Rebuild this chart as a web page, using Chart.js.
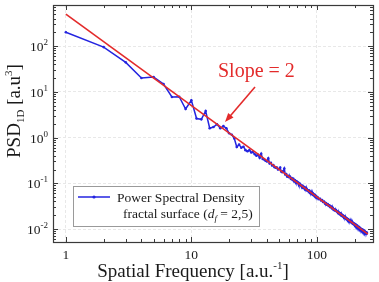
<!DOCTYPE html>
<html>
<head>
<meta charset="utf-8">
<script src="https://cdn.jsdelivr.net/npm/chart.js@4.4.1/dist/chart.umd.min.js"></script>
<style>
html, body { margin: 0; padding: 0; background: #fff; }
#wrap { width: 379px; height: 282px; position: relative; }
</style>
</head>
<body>
<div id="wrap"><canvas id="psdChart"></canvas></div>
<script>
const freq = [
	1, 2, 3, 4, 5, 6, 7, 8, 9, 10,
	11, 12, 13, 14, 15, 16, 17, 18, 19, 20,
	21, 22, 23, 24, 25, 26, 27, 28, 29, 30,
	31, 32, 33, 34, 35, 36, 37, 38, 39, 40,
	41, 42, 43, 44, 45, 46, 47, 48, 49, 50,
	51, 52, 53, 54, 55, 56, 57, 58, 59, 60,
	61, 62, 63, 64, 65, 66, 67, 68, 69, 70,
	71, 72, 73, 74, 75, 76, 77, 78, 79, 80,
	81, 82, 83, 84, 85, 86, 87, 88, 89, 90,
	91, 92, 93, 94, 95, 96, 97, 98, 99, 100,
	102, 104, 106, 108, 110, 112, 114, 116, 118, 120,
	122, 124, 126, 128, 130, 132, 134, 136, 138, 140,
	142, 144, 146, 148, 150, 152, 154, 156, 158, 160,
	162, 164, 166, 168, 170, 172, 174, 176, 178, 180,
	182, 184, 186, 188, 190, 192, 194, 196, 198, 200,
	202, 204, 206, 208, 210, 212, 214, 216, 218, 220,
	222, 224, 226, 228, 230, 232, 234, 236, 238, 240,
	242, 244, 246, 248, 250
];
const psd = [
	200, 95, 44, 20, 21, 14.8, 7.7, 7.8, 4.2, 6.5,
	2.6, 2.5, 3.8, 1.6, 1.7, 1.95, 1.6, 1.78, 1.6, 1.24,
	1.15, 0.95, 0.62, 0.70, 0.60, 0.63, 0.53, 0.50, 0.53, 0.47,
	0.48, 0.43, 0.40, 0.42, 0.36, 0.44, 0.34, 0.33, 0.31, 0.30,
	0.35, 0.27, 0.28, 0.245, 0.25, 0.225, 0.22, 0.22, 0.20, 0.205,
	0.22, 0.18, 0.175, 0.185, 0.21, 0.155, 0.16, 0.14, 0.145, 0.135,
	0.14, 0.125, 0.13, 0.118, 0.125, 0.11, 0.116, 0.104, 0.11, 0.1,
	0.104, 0.092, 0.098, 0.094, 0.088, 0.083, 0.088, 0.079, 0.083, 0.076,
	0.08, 0.072, 0.076, 0.069, 0.07, 0.066, 0.069, 0.063, 0.065, 0.06,
	0.062, 0.057, 0.06, 0.055, 0.057, 0.053, 0.055, 0.051, 0.052, 0.049,
	0.049, 0.045, 0.046, 0.042, 0.043, 0.039, 0.040, 0.036, 0.037, 0.034,
	0.035, 0.032, 0.033, 0.030, 0.031, 0.028, 0.029, 0.026, 0.027, 0.025,
	0.026, 0.024, 0.024, 0.022, 0.023, 0.021, 0.022, 0.0198, 0.0207, 0.019,
	0.0198, 0.018, 0.0188, 0.0172, 0.0178, 0.0164, 0.0170, 0.0156, 0.0163, 0.0150,
	0.0156, 0.0144, 0.0149, 0.0138, 0.0143, 0.0132, 0.0137, 0.0127, 0.0132, 0.0122,
	0.0127, 0.0117, 0.0122, 0.0112, 0.0117, 0.0108, 0.0112, 0.0104, 0.0109, 0.0100,
	0.0104, 0.0097, 0.0100, 0.0093, 0.0097, 0.0090, 0.0094, 0.0087, 0.0091, 0.0084,
	0.0088, 0.0081, 0.0085, 0.0079, 0.0084
];
// fitted slope line end points
const slopeX = [1, 255];
const slopeY = [500, 0.0077];

const xTicks = [1, 10, 100];
const yTicks = [0.01, 0.1, 1, 10, 100];
const yTickExp = ["-2", "-1", "0", "1", "2"];

const serif = '"Liberation Serif", "Times New Roman", serif';
const blue = "#2424e0";
const red = "#e32b2b";

// draws a run of text pieces [text, size, dy, style] from x, returns width
function drawParts(ctx, parts, x, y, measureOnly) {
	let cx = x;
	parts.forEach(function (p) {
		ctx.font = (p[3] || "") + " " + p[1] + "px " + serif;
		if (!measureOnly) ctx.fillText(p[0], cx, y + p[2]);
		cx += ctx.measureText(p[0]).width;
	});
	return cx - x;
}

function hline(ctx, x1, y1, x2, y2) {
	ctx.beginPath();
	ctx.moveTo(x1, y1);
	ctx.lineTo(x2, y2);
	ctx.stroke();
}

const decorations = {
	id: "decorations",
	afterDraw(chart) {
		const ctx = chart.ctx;
		const a = chart.chartArea;
		const xs = chart.scales.x;
		const ys = chart.scales.y;
		ctx.save();

		// frame
		ctx.strokeStyle = "#3a3a3a";
		ctx.lineWidth = 1.2;
		ctx.strokeRect(Math.round(a.left) + 0.5, Math.round(a.top) + 0.5,
			Math.round(a.right - a.left), Math.round(a.bottom - a.top));

		// inward ticks
		ctx.lineWidth = 1;
		[1, 10, 100].forEach(function (d) {
			for (let m = 1; m <= 9; m++) {
				const v = d * m;
				if (v < xs.min || v > xs.max) continue;
				const px = Math.round(xs.getPixelForValue(v)) + 0.5;
				const len = m === 1 ? 5 : 3;
				hline(ctx, px, a.bottom, px, a.bottom - len);
				hline(ctx, px, a.top, px, a.top + len);
			}
		});
		[0.001, 0.01, 0.1, 1, 10, 100].forEach(function (d) {
			for (let m = 1; m <= 9; m++) {
				const v = d * m;
				if (v < ys.min || v > ys.max) continue;
				const py = Math.round(ys.getPixelForValue(v)) + 0.5;
				const len = m === 1 ? 5 : 3;
				hline(ctx, a.left, py, a.left + len, py);
				hline(ctx, a.right, py, a.right - len, py);
			}
		});

		// y tick labels 10^n
		ctx.fillStyle = "#1a1a1a";
		ctx.textAlign = "left";
		ctx.textBaseline = "alphabetic";
		yTicks.forEach(function (v, i) {
			const py = ys.getPixelForValue(v);
			const parts = [["10", 13.5, 0], [yTickExp[i], 9, -6]];
			const w = drawParts(ctx, parts, 0, 0, true);
			drawParts(ctx, parts, 48 - w, py + 5);
		});

		// x axis title
		const xt = [["Spatial Frequency [a.u.", 19, 0], ["-1", 11, -8], ["]", 19, 0]];
		const xw = drawParts(ctx, xt, 0, 0, true);
		drawParts(ctx, xt, 193 - xw / 2, 277);

		// y axis title, rotated
		ctx.save();
		ctx.translate(20, 111);
		ctx.rotate(-Math.PI / 2);
		const yt = [["PSD", 19, 0], ["1D", 11, 4], [" [a.u", 19, 0], ["3", 11, -8], ["]", 19, 0]];
		const yw = drawParts(ctx, yt, 0, 0, true);
		drawParts(ctx, yt, -yw / 2, 0);
		ctx.restore();

		// legend box
		ctx.fillStyle = "#fff";
		ctx.fillRect(73.5, 186.5, 186, 40);
		ctx.strokeStyle = "#9a9a9a";
		ctx.lineWidth = 1;
		ctx.strokeRect(73.5, 186.5, 186, 40);
		ctx.strokeStyle = blue;
		ctx.lineWidth = 1.5;
		hline(ctx, 78, 197, 110, 197);
		ctx.fillStyle = blue;
		ctx.beginPath();
		ctx.arc(94, 197, 1.6, 0, Math.PI * 2);
		ctx.fill();
		ctx.fillStyle = "#1a1a1a";
		drawParts(ctx, [["Power Spectral Density", 13.5, 0]], 117, 201.5);
		drawParts(ctx, [["fractal surface (", 13.5, 0], ["d", 13.5, 0, "italic"], ["f", 9, 3, "italic"],
			[" = 2,5)", 13.5, 0]], 123, 217.5);

		// slope annotation
		ctx.fillStyle = red;
		drawParts(ctx, [["Slope = 2", 20, 0]], 218, 77);
		ctx.strokeStyle = red;
		ctx.lineWidth = 1.6;
		const tipX = 225, tipY = 122, fromX = 255, fromY = 87;
		const ang = Math.atan2(tipY - fromY, tipX - fromX);
		hline(ctx, fromX, fromY, tipX - 6 * Math.cos(ang), tipY - 6 * Math.sin(ang));
		ctx.beginPath();
		ctx.moveTo(tipX, tipY);
		ctx.lineTo(tipX - 9 * Math.cos(ang) + 3.5 * Math.sin(ang), tipY - 9 * Math.sin(ang) - 3.5 * Math.cos(ang));
		ctx.lineTo(tipX - 9 * Math.cos(ang) - 3.5 * Math.sin(ang), tipY - 9 * Math.sin(ang) + 3.5 * Math.cos(ang));
		ctx.closePath();
		ctx.fill();

		ctx.restore();
	}
};

const ctx = document.getElementById("psdChart").getContext("2d");
const chart = new Chart(ctx, {
	type: "line",
	data: {
		datasets: [
			{
				label: "Slope = 2",
				data: slopeX.map(function (x, i) { return { x: x, y: slopeY[i] }; }),
				borderColor: red,
				borderWidth: 1.6,
				pointRadius: 0,
				order: 0
			},
			{
				label: "Power Spectral Density",
				data: freq.map(function (x, i) { return { x: x, y: psd[i] }; }),
				borderColor: blue,
				backgroundColor: blue,
				borderWidth: 1.5,
				pointRadius: 1.3,
				pointBorderWidth: 0,
				order: 1
			}
		]
	},
	options: {
		responsive: true,
		maintainAspectRatio: false,
		animation: false,
		layout: { padding: { top: 5, right: 6, left: 0, bottom: 0 } },
		plugins: {
			legend: { display: false },
			tooltip: { enabled: false }
		},
		scales: {
			x: {
				type: "logarithmic",
				min: 0.79,
				max: 280,
				afterBuildTicks: function (scale) {
					scale.ticks = xTicks.map(function (v) { return { value: v }; });
				},
				afterFit: function (scale) { scale.height = 40; },
				ticks: {
					autoSkip: false,
					maxRotation: 0,
					padding: 5,
					color: "#1a1a1a",
					font: { family: serif, size: 13.5 },
					callback: function (v) { return String(v); }
				},
				grid: { color: "#e8e8e8", drawTicks: false },
				border: { display: false, dash: [3, 2] }
			},
			y: {
				type: "logarithmic",
				min: 0.0052,
				max: 790,
				afterBuildTicks: function (scale) {
					scale.ticks = yTicks.map(function (v) { return { value: v }; });
				},
				afterFit: function (scale) { scale.width = 53; },
				ticks: { display: false },
				grid: { color: "#e8e8e8", drawTicks: false },
				border: { display: false, dash: [3, 2] }
			}
		}
	},
	plugins: [decorations]
});
</script>
</body>
</html>
